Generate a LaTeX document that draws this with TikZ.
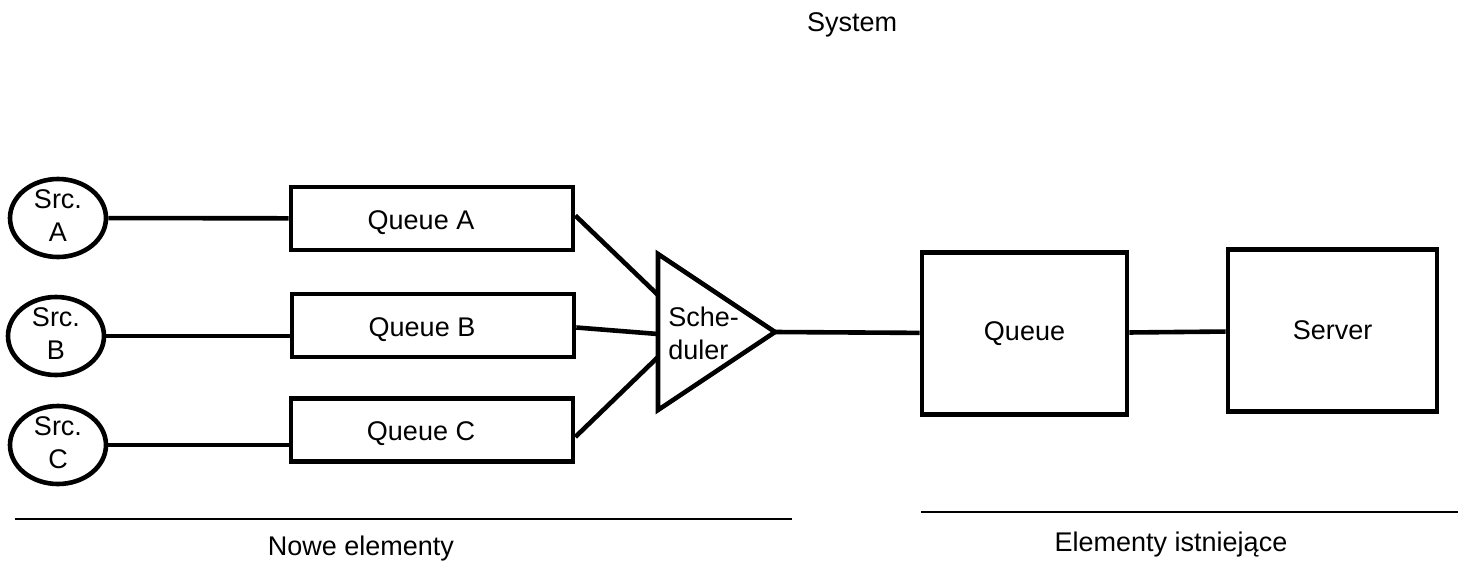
\documentclass[tikz,border=0pt]{standalone}
\usepackage{fontspec}
\setmainfont{Liberation Sans}
\usetikzlibrary{positioning,shapes.geometric}

\begin{document}
\begin{tikzpicture}[x=0.5pt,y=-0.5pt,line width=2.3pt,
    every node/.style={font=\fontsize{13.5}{16.5}\selectfont},
    src node/.style={ellipse,draw,inner sep=0pt,minimum width=48pt,minimum height=39pt},
    src text/.style={align=center,yshift=1pt},
    queue node/.style={rectangle,draw,inner sep=0pt,minimum width=141pt,minimum height=31.5pt},
    big node/.style={rectangle,draw,inner sep=0pt,minimum height=81pt}]
    \useasboundingbox (0,0) rectangle (1465,568);
			\node (title) at (852,25) {System};
			\node[src node,label={[src text]center:Src.\\A}] (sa) at (58,218) {};
			\node[src node,label={[src text]center:Src.\\B}] (sb) at (56,336) {};
			\node[src node,label={[src text]center:Src.\\C}] (sc) at (58,445) {};
			\node[queue node,label={[xshift=-5.5pt,yshift=-2pt]center:Queue A}] (qa) at (432,218.5) {};
			\node[queue node,label={[xshift=-5.5pt,yshift=-2pt]center:Queue B}] (qb) at (433,325.5) {};
			\node[queue node,label={[xshift=-5.5pt,yshift=-2pt]center:Queue C}] (qc) at (432,430) {};
			\node[isosceles triangle,isosceles triangle stretches,draw,inner sep=0pt,outer sep=0pt,
				minimum height=58.5pt,minimum width=78pt,anchor=west] (sched) at (658,332) {};
			\node[align=left,inner sep=0pt,anchor=west] (schedtext) at (666,333) {Sche-\\duler};
			\node[big node,minimum width=102.5pt] (queue) at (1024.5,333.5) {Queue};
			\node[big node,minimum width=104.5pt] (server) at (1332.5,330.5) {Server};
			\path
				(sa)	edge (qa)
				(sb.east)	edge (sb.east -| qb.west)
				(sc.east)	edge (sc.east -| qc.west)
				([yshift=1.5pt]qa.east)	edge ([yshift=18.5pt]sched.west)
				([yshift=-1pt]qb.east)	edge ([yshift=-1pt]sched.west)
				([yshift=-3.5pt]qc.east)	edge ([yshift=-12.5pt]sched.west)
				(sched.apex)	edge (queue)
				(queue)	edge (server);
			% separators and captions
			\draw[line width=0.7pt] (15,519) -- (792,519);
			\draw[line width=0.7pt] (921,512) -- (1458,512);
			\node (newlabel) at (361,549) {Nowe elementy};
			\node (oldlabel) at (1171,545) {Elementy istniejące};
		\end{tikzpicture}
\end{document}
